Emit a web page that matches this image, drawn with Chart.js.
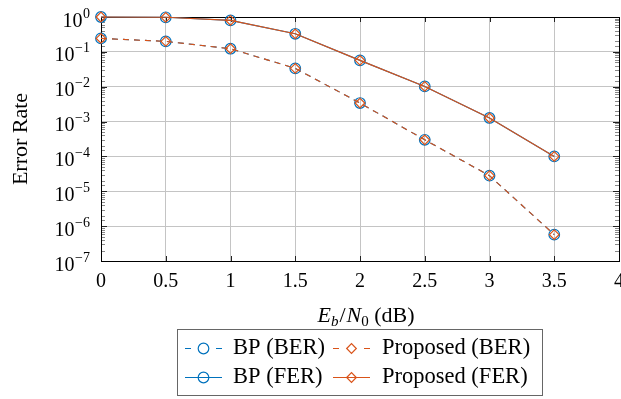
<!DOCTYPE html>
<html><head><meta charset="utf-8">
<script src="https://cdn.jsdelivr.net/npm/chart.js@4/dist/chart.umd.min.js"></script>
<style>html,body{margin:0;padding:0;background:#fff;overflow:hidden}</style>
</head><body>
<canvas id="c" width="621" height="399"></canvas>
<script>
// ---- data ----
const ebn0 = [0, 0.5, 1, 1.5, 2, 2.5, 3, 3.5];
const bpBER = [0.243, 0.2, 0.123, 0.0336, 0.0034, 0.00030, 0.000028, 0.00000057];
const propBER = [0.243, 0.2, 0.123, 0.0336, 0.0034, 0.00030, 0.000028, 0.00000057];
const bpFER = [1.0, 0.98, 0.80, 0.33, 0.057, 0.0102, 0.00127, 0.00010];
const propFER = [1.0, 0.98, 0.80, 0.33, 0.057, 0.0102, 0.00127, 0.00010];
const xTickValues = [0, 0.5, 1, 1.5, 2, 2.5, 3, 3.5, 4];
const seriesLabels = ['BP (BER)', 'Proposed (BER)', 'BP (FER)', 'Proposed (FER)'];
const xTitleParts = ['E', 'b', '/', 'N', '0', ' (dB)'];
const yTitle = 'Error Rate';

const BLUE = '#0072BD', ORANGE = '#D95319';
const SERIF = 'Liberation Serif';

function pts(ys) { return ebn0.map((x, i) => ({ x: x, y: ys[i] })); }

function mkSet(label, ys, color, dashed, style, order) {
  return {
    label: label, data: pts(ys), borderColor: color, borderWidth: 1.1,
    borderDash: dashed ? [6, 5] : [], pointStyle: style,
    pointRadius: style === 'circle' ? 5.3 : 4.8, pointBorderWidth: 1.2,
    pointBorderColor: color, pointBackgroundColor: 'rgba(0,0,0,0)',
    pointHoverRadius: 5, tension: 0, fill: false, clip: false, order: order
  };
}

const deco = {
  id: 'deco',
  beforeDatasetsDraw(chart) {
    const ctx = chart.ctx, a = chart.chartArea;
    const ys = chart.scales.y, xs = chart.scales.x;
    ctx.save();
    ys.ticks.forEach(t => {
      const y = Math.round(ys.getPixelForValue(t.value)) + 0.5;
      const len = t.major ? 6 : 4;
      ctx.strokeStyle = t.major ? '#222' : '#888';
      ctx.lineWidth = 1;
      ctx.beginPath();
      ctx.moveTo(a.left, y); ctx.lineTo(a.left + len, y);
      ctx.moveTo(a.right, y); ctx.lineTo(a.right - len, y);
      ctx.stroke();
    });
    xs.ticks.forEach(t => {
      const x = Math.round(xs.getPixelForValue(t.value)) + 0.5;
      ctx.strokeStyle = '#222';
      ctx.beginPath();
      ctx.moveTo(x, a.bottom); ctx.lineTo(x, a.bottom - 5);
      ctx.moveTo(x, a.top); ctx.lineTo(x, a.top + 5);
      ctx.stroke();
    });
    ctx.strokeStyle = '#000';
    ctx.lineWidth = 1;
    ctx.strokeRect(Math.round(a.left) + 0.5, Math.round(a.top) + 0.5,
      Math.round(a.right - a.left), Math.round(a.bottom - a.top));
    ctx.restore();
  },
  afterDraw(chart) {
    const ctx = chart.ctx, a = chart.chartArea, ys = chart.scales.y;
    ctx.save();
    ctx.fillStyle = '#000';
    ys.ticks.filter(t => t.major).forEach(t => {
      const y = ys.getPixelForValue(t.value);
      const k = Math.round(Math.log10(t.value));
      const expo = k === 0 ? '0' : '\u2212' + Math.abs(k);
      ctx.font = '14px ' + SERIF;
      const ew = ctx.measureText(expo).width;
      const right = 90;
      ctx.textAlign = 'left'; ctx.textBaseline = 'alphabetic';
      ctx.fillText(expo, right - ew, y + 0.5);
      ctx.font = '20px ' + SERIF;
      ctx.textAlign = 'right';
      ctx.fillText('10', right - ew - 0.5, y + 9.5);
    });
    ctx.save();
    ctx.translate(27, (a.top + a.bottom) / 2);
    ctx.rotate(-Math.PI / 2);
    ctx.font = '22px ' + SERIF;
    ctx.textAlign = 'center'; ctx.textBaseline = 'alphabetic';
    ctx.fillText(yTitle, 0, 0);
    ctx.restore();
    const fonts = ['italic 22px ', 'italic 15px ', '22px ', 'italic 22px ', '15px ', '22px '];
    const dy = [0, 4, 0, 0, 4, 0];
    let widths = xTitleParts.map((p, i) => { ctx.font = fonts[i] + SERIF; return ctx.measureText(p).width; });
    const total = widths.reduce((s, w) => s + w, 0) + 2;
    let x = 366 - total / 2;
    ctx.textAlign = 'left'; ctx.textBaseline = 'alphabetic';
    xTitleParts.forEach((p, i) => {
      ctx.font = fonts[i] + SERIF;
      ctx.fillText(p, x, 322 + dy[i]);
      x += widths[i] + (i === 1 || i === 2 ? 1 : 0);
    });
    ctx.strokeStyle = '#666'; ctx.lineWidth = 1;
    ctx.strokeRect(177.5, 329.5, 365, 66);
    const cols = [{ lx: 185, lw: 37, tx: 233 }, { lx: 333, lw: 37, tx: 382 }];
    const rows = [348, 377];
    chart.data.datasets.forEach((ds, i) => {
      const c = cols[i % 2], ry = rows[Math.floor(i / 2)] + 0.5;
      const cx = c.lx + c.lw / 2;
      ctx.strokeStyle = ds.borderColor; ctx.lineWidth = ds.borderWidth;
      ctx.beginPath();
      if (ds.borderDash.length) {
        ctx.moveTo(c.lx, ry); ctx.lineTo(c.lx + 6, ry);
        ctx.moveTo(c.lx + c.lw - 6, ry); ctx.lineTo(c.lx + c.lw, ry);
      } else {
        ctx.moveTo(c.lx, ry); ctx.lineTo(c.lx + c.lw, ry);
      }
      ctx.stroke();
      ctx.lineWidth = ds.pointBorderWidth;
      ctx.beginPath();
      const r = ds.pointRadius;
      if (ds.pointStyle === 'circle') {
        ctx.arc(cx, ry, r, 0, Math.PI * 2);
      } else {
        ctx.moveTo(cx - r, ry); ctx.lineTo(cx, ry - r); ctx.lineTo(cx + r, ry); ctx.lineTo(cx, ry + r); ctx.closePath();
      }
      ctx.stroke();
      ctx.fillStyle = '#000';
      ctx.font = '22.5px ' + SERIF;
      ctx.textAlign = 'left'; ctx.textBaseline = 'middle';
      ctx.fillText(ds.label, c.tx, ry);
    });
    ctx.restore();
  }
};

new Chart(document.getElementById('c'), {
  type: 'line',
  data: {
    datasets: [
      mkSet(seriesLabels[0], bpBER, BLUE, true, 'circle', 1),
      mkSet(seriesLabels[1], propBER, ORANGE, true, 'rectRot', 0),
      mkSet(seriesLabels[2], bpFER, BLUE, false, 'circle', 1),
      mkSet(seriesLabels[3], propFER, ORANGE, false, 'rectRot', 0)
    ]
  },
  options: {
    responsive: false, animation: false, devicePixelRatio: 1,
    layout: { autoPadding: false, padding: { left: 0, right: 2, top: 17, bottom: 0 } },
    plugins: { legend: { display: false }, tooltip: { enabled: false } },
    scales: {
      x: {
        type: 'linear', min: 0, max: 4,
        afterBuildTicks: s => { s.ticks = xTickValues.map(v => ({ value: v })); },
        afterFit: s => { s.height = 138; s.paddingLeft = 0; s.paddingRight = 0; },
        grid: { color: '#c4c4c4', lineWidth: 1, drawTicks: false },
        border: { display: true, color: '#000', width: 1 },
        ticks: {
          color: '#000', padding: 9, maxRotation: 0, autoSkip: false,
          font: { family: SERIF, size: 20 },
          callback: v => String(v)
        }
      },
      y: {
        type: 'logarithmic', min: 1e-7, max: 1,
        afterFit: s => { s.width = 101; s.paddingTop = 0; s.paddingBottom = 0; },
        grid: {
          drawTicks: false, lineWidth: 1,
          color: c => (c.tick && c.tick.major) ? '#c4c4c4' : 'rgba(0,0,0,0)'
        },
        border: { display: true, color: '#000', width: 1 },
        ticks: { display: false, major: { enabled: true } }
      }
    }
  },
  plugins: [deco]
});
</script>
</body></html>
